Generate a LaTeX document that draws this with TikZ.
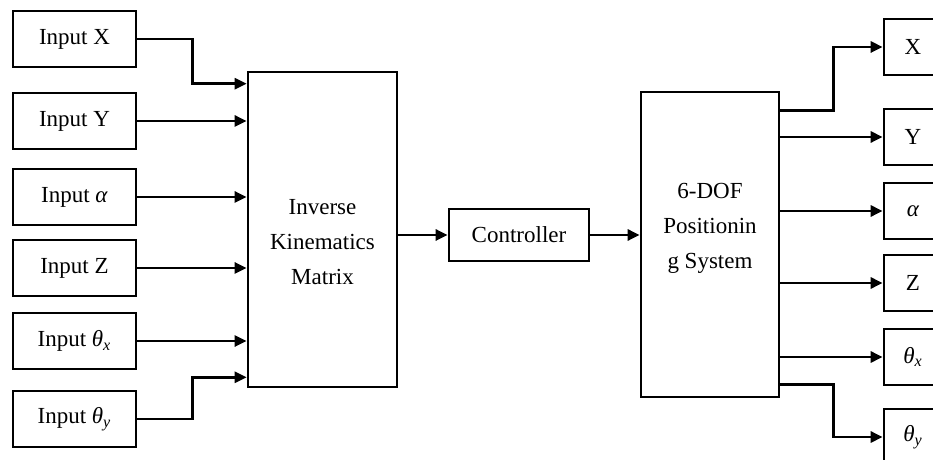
\documentclass[tikz,border=0pt]{standalone}
\usepackage{fontspec}
\setmainfont{Liberation Serif}
\usetikzlibrary{arrows.meta,calc}
\begin{document}
\begin{tikzpicture}[x=0.5pt,y=-0.5pt]
\tikzset{bloc/.style={draw, line width=1.3pt, inner sep=0pt, font=\fontsize{11.5}{17.5}\selectfont},
  entree/.style={bloc, minimum width=61.5pt, minimum height=28pt},
  sortie/.style={bloc, minimum width=40pt, minimum height=28pt, execute at begin node={\hspace*{-11pt}}},
  fleche/.style={line width=1.3pt, -{Triangle[length=6pt,width=5.5pt]}}}
\useasboundingbox (0,0) rectangle (933,460);
\clip (0,0) rectangle (933,460);
\node[entree] (In1) at (74.5,39) {Input X};
\node[entree] (In2) at (74.5,121) {Input Y};
\node[entree] (In3) at (74.5,197) {Input \textit{α}};
\node[entree] (In4) at (74.5,268) {Input Z};
\node[entree] (In5) at (74.5,341) {Input \textit{θ}\textsubscript{\textit{x}}};
\node[entree] (In6) at (74.5,419) {Input \textit{θ}\textsubscript{\textit{y}}};
\node[bloc, minimum width=74.5pt, minimum height=157.5pt] (IKM) at (322.5,229.5) {};
\node[bloc, draw=none, align=center] (IKMtxt) at (322.5,242) {Inverse\\Kinematics\\Matrix};
\node[bloc, minimum width=70pt, minimum height=26pt] (Ctrl) at (519,235) {Controller};
\node[bloc, minimum width=69pt, minimum height=152.5pt] (Pos) at (710,244.5) {};
\node[bloc, draw=none, align=center] (Postxt) at (710,228) {6-DOF\\Positionin\\g System};
\node[sortie] (Out1) at (924,47) {X};
\node[sortie] (Out2) at (924,137) {Y};
\node[sortie] (Out3) at (924,211) {\textit{α}};
\node[sortie] (Out4) at (924,283) {Z};
\node[sortie] (Out5) at (924,357) {\textit{θ}\textsubscript{\textit{x}}};
\node[sortie] (Out6) at (924,437) {\textit{θ}\textsubscript{\textit{y}}};
\draw[fleche] (In1.east) -- ++(55,0) |- ($(IKM.north west)+(0,13)$);
\draw[fleche] (In2.east) -- (IKM.west |- In2);
\draw[fleche] (In3.east) -- (IKM.west |- In3);
\draw[fleche] (In4.east) -- (IKM.west |- In4);
\draw[fleche] (In5.east) -- (IKM.west |- In5);
\draw[fleche] (In6.east) -- ++(55,0) |- ($(IKM.south west)+(0,-11)$);
\draw[fleche] (IKM.east |- Ctrl) -- (Ctrl.west);
\draw[fleche] (Ctrl.east) -- (Pos.west |- Ctrl);
\draw[fleche] ($(Pos.north east)+(0,20)$) -- ++(53,0) |- (Out1.west);
\draw[fleche] (Pos.east |- Out2) -- (Out2.west);
\draw[fleche] (Pos.east |- Out3) -- (Out3.west);
\draw[fleche] (Pos.east |- Out4) -- (Out4.west);
\draw[fleche] (Pos.east |- Out5) -- (Out5.west);
\draw[fleche] ($(Pos.south east)+(0,-14)$) -- ++(53,0) |- (Out6.west);
\end{tikzpicture}
\end{document}
